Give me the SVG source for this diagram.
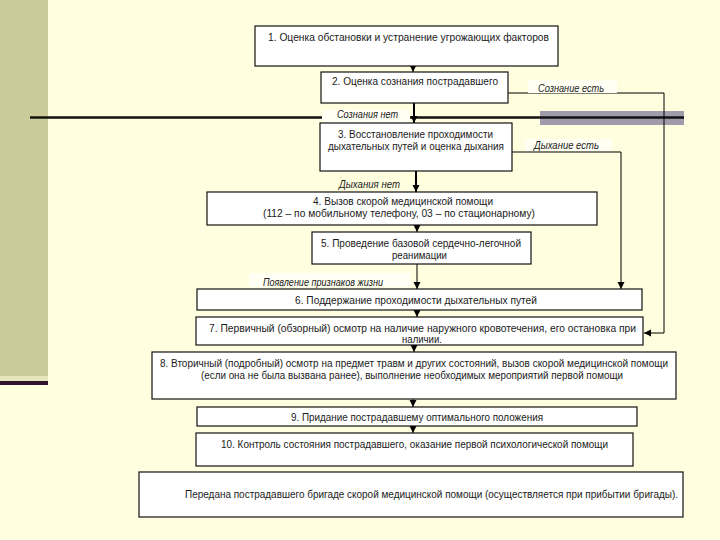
<svg xmlns="http://www.w3.org/2000/svg" width="720" height="540" viewBox="0 0 720 540">
<style>
.box{fill:#fff;stroke:#111;stroke-width:1.2}
.t{font-family:"Liberation Sans",Arial,sans-serif;font-size:10px;fill:#1a1a1a;text-anchor:middle}
.l{font-family:"Liberation Sans",Arial,sans-serif;font-size:10px;fill:#1a1a1a;font-style:italic}
.c{stroke:#000;stroke-width:1;fill:none}
.ck{stroke:#000;stroke-width:2;fill:none}
.lb{fill:#FFFFF3}
</style>
<defs>
<marker id="ah" markerUnits="userSpaceOnUse" markerWidth="8" markerHeight="8" refX="7" refY="4" orient="auto">
<path d="M0,0.5 L7,4 L0,7.5 z" fill="#000"/>
</marker>
</defs>
<rect width="720" height="540" fill="#FFFFDF"/>
<g id="decor">
<rect x="0" y="0" width="48" height="378" fill="#CBCB99"/>
<rect x="0" y="376" width="48" height="5" fill="#E6E6BC"/>
<rect x="0" y="381" width="48" height="4" fill="#2E1430"/>
<rect x="540" y="111" width="144" height="14" fill="#A09BAA"/>
<line x1="30" y1="117.5" x2="684" y2="117.5" stroke="#111" stroke-width="2.5"/>
</g>
<g id="connectors">
<line class="c" x1="413" y1="66" x2="413" y2="72" marker-end="url(#ah)"/>
<line class="ck" x1="414" y1="103" x2="414" y2="123" marker-end="url(#ah)"/>
<line class="ck" x1="416" y1="171" x2="416" y2="192" marker-end="url(#ah)"/>
<line class="c" x1="417" y1="225" x2="417" y2="232" marker-end="url(#ah)"/>
<line class="c" x1="417" y1="264" x2="417" y2="289" marker-end="url(#ah)"/>
<line class="c" x1="417" y1="310" x2="417" y2="317" marker-end="url(#ah)"/>
<line class="c" x1="414" y1="345" x2="414" y2="352" marker-end="url(#ah)"/>
<line class="c" x1="413" y1="399" x2="413" y2="407" marker-end="url(#ah)"/>
<line class="c" x1="413" y1="426" x2="413" y2="433" marker-end="url(#ah)"/>
<polyline class="c" points="508,93 664,93 664,333 644,333" marker-end="url(#ah)"/>
<polyline class="c" points="512,152 621,152 621,289" marker-end="url(#ah)"/>
</g>
<g id="labels">
<rect class="lb" x="528" y="80" width="89" height="13"/>
<text class="l" x="538" y="92" textLength="66" lengthAdjust="spacingAndGlyphs">Сознание есть</text>
<rect class="lb" x="322" y="110" width="88" height="14"/>
<text class="l" x="337" y="117.5" textLength="61" lengthAdjust="spacingAndGlyphs">Сознания нет</text>
<rect class="lb" x="525" y="139" width="87" height="12"/>
<text class="l" x="534" y="149" textLength="65" lengthAdjust="spacingAndGlyphs">Дыхание есть</text>
<text class="l" x="339" y="187.5" textLength="61" lengthAdjust="spacingAndGlyphs">Дыхания нет</text>
<rect class="lb" x="249" y="273" width="162" height="14"/>
<text class="l" x="263" y="285.5" textLength="120" lengthAdjust="spacingAndGlyphs">Появление признаков жизни</text>
</g>
<g id="n1"><rect class="box" x="255" y="26" width="303" height="40"/>
<text class="t" x="408.5" y="40.5" textLength="281" lengthAdjust="spacingAndGlyphs">1. Оценка обстановки и устранение угрожающих факторов</text></g>
<g id="n2"><rect class="box" x="321" y="72" width="187" height="31"/>
<text class="t" x="415" y="84.5" textLength="166" lengthAdjust="spacingAndGlyphs">2. Оценка сознания пострадавшего</text></g>
<g id="n3"><rect class="box" x="320" y="123" width="192" height="48"/>
<text class="t" x="415.5" y="137.5" textLength="155" lengthAdjust="spacingAndGlyphs">3. Восстановление проходимости</text>
<text class="t" x="416" y="149.5" textLength="176" lengthAdjust="spacingAndGlyphs">дыхательных путей и оценка дыхания</text></g>
<g id="n4"><rect class="box" x="207" y="192" width="390" height="33"/>
<text class="t" x="403" y="204.5" textLength="180" lengthAdjust="spacingAndGlyphs">4. Вызов скорой медицинской помощи</text>
<text class="t" x="399" y="216.5" textLength="272" lengthAdjust="spacingAndGlyphs">(112 – по мобильному телефону, 03 – по стационарному)</text></g>
<g id="n5"><rect class="box" x="312" y="232" width="219" height="32"/>
<text class="t" x="421" y="246.5" textLength="200" lengthAdjust="spacingAndGlyphs">5. Проведение базовой сердечно-легочной</text>
<text class="t" x="419.5" y="258.5" textLength="55" lengthAdjust="spacingAndGlyphs">реанимации</text></g>
<g id="n6"><rect class="box" x="197" y="289" width="445" height="21"/>
<text class="t" x="416" y="303.5" textLength="242" lengthAdjust="spacingAndGlyphs">6. Поддержание проходимости дыхательных путей</text></g>
<g id="n7"><rect class="box" x="196" y="317" width="447" height="28"/>
<text class="t" x="422.5" y="331.5" textLength="427" lengthAdjust="spacingAndGlyphs">7. Первичный (обзорный) осмотр на наличие наружного кровотечения, его остановка при</text>
<text class="t" x="422" y="343" textLength="40" lengthAdjust="spacingAndGlyphs">наличии.</text></g>
<g id="n8"><rect class="box" x="152" y="352" width="524" height="47"/>
<text class="t" x="414" y="366.5" textLength="508" lengthAdjust="spacingAndGlyphs">8. Вторичный (подробный) осмотр на предмет травм и других состояний, вызов скорой медицинской помощи</text>
<text class="t" x="412" y="378.5" textLength="422" lengthAdjust="spacingAndGlyphs">(если она не была вызвана ранее), выполнение необходимых мероприятий первой помощи</text></g>
<g id="n9"><rect class="box" x="197" y="407" width="440" height="19"/>
<text class="t" x="417" y="420.5" textLength="252" lengthAdjust="spacingAndGlyphs">9. Придание пострадавшему оптимального положения</text></g>
<g id="n10"><rect class="box" x="196" y="433" width="437" height="33"/>
<text class="t" x="414.5" y="447.5" textLength="387" lengthAdjust="spacingAndGlyphs">10. Контроль состояния пострадавшего, оказание первой психологической помощи</text></g>
<g id="n11"><rect class="box" x="139" y="472" width="544" height="45"/>
<text class="t" x="431.5" y="497.5" textLength="493" lengthAdjust="spacingAndGlyphs">Передана пострадавшего бригаде скорой медицинской помощи (осуществляется при прибытии бригады).</text></g>
</svg>
